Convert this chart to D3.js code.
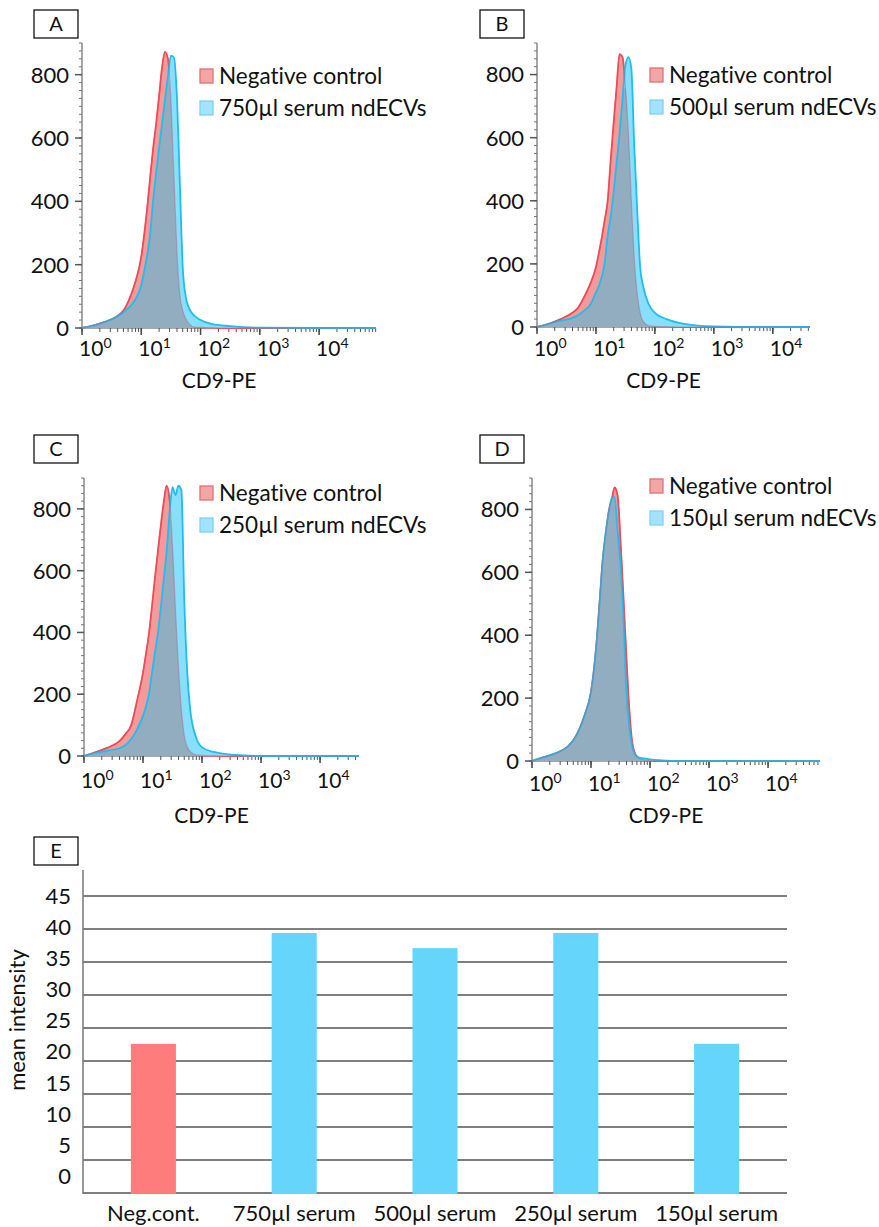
<!DOCTYPE html>
<html>
<head>
<meta charset="utf-8">
<script src="https://cdn.jsdelivr.net/npm/d3@7"></script>
<style>
  body { margin: 0; background: #fff; }
  text { font-family: Lato, "Open Sans", sans-serif; fill: #111; font-variant-ligatures: none; }
</style>
</head>
<body>
<svg id="figure" width="879" height="1227"></svg>
<script>
/*
 * CD9-PE histogram overlays (A-D) and the mean intensity bar chart (E).
 */

// Fluorescence channel values (CD9-PE) the histogram counts were read at.
var channel = [1, 1.58, 2.51, 3.98, 5.01, 6.31, 7.94, 10, 11.2, 12.6, 14.1, 15.8, 17.8, 20, 22.4,
  25.1, 28.2, 31.6, 35.5, 39.8, 44.7, 50.1, 56.2, 63.1, 79.4, 100, 158, 316, 1000, 10000, 100000];

// Counts per channel, negative control vs. serum ndECVs, one pair per panel.
var negA = [0, 8, 20, 38, 55, 92, 145, 225, 295, 380, 475, 565, 645, 734, 822, 872, 850, 720, 480, 250, 105, 55, 30, 15, 3, 2, 1, 0, 0, 0, 0];
var serumA = [0, 8, 20, 37, 50, 66, 90, 135, 180, 230, 295, 400, 490, 570, 645, 720, 795, 860, 855, 735, 460, 190, 100, 65, 38, 25, 12, 6, 1, 0, 0];
var negB = [0, 10, 25, 45, 62, 95, 135, 190, 235, 285, 340, 400, 530, 650, 760, 865, 855, 760, 615, 400, 215, 105, 45, 18, 4, 2, 1, 0, 0, 0, 0];
var serumB = [0, 10, 20, 29, 38, 52, 70, 110, 130, 160, 205, 290, 350, 430, 520, 612, 720, 830, 855, 820, 570, 370, 190, 130, 70, 45, 25, 10, 2, 0, 0];
var negC = [0, 13, 27, 48, 70, 100, 180, 270, 330, 395, 480, 570, 660, 745, 820, 875, 830, 680, 470, 290, 150, 65, 30, 14, 4, 2, 1, 0, 0, 0, 0];
var serumC = [0, 10, 17, 25, 35, 55, 86, 130, 160, 200, 265, 330, 395, 480, 570, 660, 790, 870, 845, 875, 860, 500, 270, 150, 60, 28, 13, 4, 0, 0, 0];
var negD = [0, 12, 24, 45, 66, 100, 150, 220, 290, 390, 515, 640, 720, 795, 830, 870, 845, 700, 520, 330, 160, 58, 22, 10, 3, 1, 0, 0, 0, 0, 0];
var serumD = [0, 12, 25, 45, 66, 100, 150, 220, 290, 390, 510, 640, 730, 790, 835, 840, 730, 625, 450, 220, 110, 45, 20, 12, 8, 5, 2, 0, 0, 0, 0];

var negLabel = 'Negative control';
var serumLabels = ['750µl serum ndECVs', '500µl serum ndECVs', '250µl serum ndECVs', '150µl serum ndECVs'];
var countTicks = [0, 200, 400, 600, 800];
var decadeTicks = [1, 10, 100, 1000, 10000];
var xTitle = 'CD9-PE';

// Panel E
var barCategories = ['Neg.cont.', '750µl serum', '500µl serum', '250µl serum', '150µl serum'];
var barValues = [22.6, 39.4, 37.1, 39.4, 22.6];
var barTicks = [0, 5, 10, 15, 20, 25, 30, 35, 40, 45];
var barTitle = 'mean intensity';

var RED_FILL = '#f59a9a', RED_LINE = '#ff4a4a';
var BLUE_FILL = '#88dffb', BLUE_LINE = '#1fbdf0';
var OVERLAP = '#92acc0';

var svg = d3.select('#figure');

// Where each histogram sits on the page.
var panels = [
  {letter: 'A', neg: negA, serum: serumA, label: serumLabels[0], left: 82, right: 376, top: 43, bottom: 328, xMax: 91200,
   box: [34, 10], legend: [200, 84], title: 388, tickY: 356},
  {letter: 'B', neg: negB, serum: serumB, label: serumLabels[1], left: 537, right: 810, top: 43, bottom: 327, xMax: 42700,
   box: [480, 10], legend: [650, 83], title: 388, tickY: 356},
  {letter: 'C', neg: negC, serum: serumC, label: serumLabels[2], left: 84, right: 359, top: 478, bottom: 756, xMax: 45700,
   box: [34, 435], legend: [200, 501], title: 823, tickY: 788},
  {letter: 'D', neg: negD, serum: serumD, label: serumLabels[3], left: 532, right: 820, top: 478, bottom: 761, xMax: 75900,
   box: [480, 435], legend: [650, 494], title: 823, tickY: 791}
];

function letterBox(letter, pos) {
  /* Small boxed panel letter. */
  svg.append('rect')
    .attr('x', pos[0]).attr('y', pos[1])
    .attr('width', 44).attr('height', 28)
    .attr('fill', '#fff').attr('stroke', '#111').attr('stroke-width', 1.3);
  svg.append('text')
    .attr('x', pos[0] + 22).attr('y', pos[1] + 21)
    .attr('text-anchor', 'middle')
    .attr('font-size', 20)
    .text(letter);
}

function drawHistogram(p) {
  var g = svg.append('g');
  var x = d3.scaleLog().domain([1, p.xMax]).range([p.left, p.right]);
  var y = d3.scaleLinear().domain([0, 900]).range([p.bottom, p.top]);

  // keep the samples inside the axis, then run flat to its end
  var pts = [];
  channel.forEach(function(c, i) {
    if (c < p.xMax) pts.push({c: c, neg: p.neg[i], serum: p.serum[i]});
  });
  pts.push({c: p.xMax, neg: 0, serum: 0});

  var area = function(key) {
    return d3.area()
      .x(function(d) { return x(d.c); })
      .y0(y(0))
      .y1(function(d) { return y(key(d)); })
      .curve(d3.curveMonotoneX);
  };
  var line = function(key) {
    return d3.line()
      .x(function(d) { return x(d.c); })
      .y(function(d) { return y(key(d)); })
      .curve(d3.curveMonotoneX);
  };
  var negOf = function(d) { return d.neg; };
  var serumOf = function(d) { return d.serum; };
  var bothOf = function(d) { return Math.min(d.neg, d.serum); };

  // Y axis: minor ticks every 25 events
  g.append('line')
    .attr('x1', p.left).attr('x2', p.left)
    .attr('y1', y(0)).attr('y2', y(900))
    .attr('stroke', '#888').attr('stroke-width', 1.5);
  g.selectAll('.yminor')
    .data(d3.range(0, 901, 25))
    .enter()
    .append('line')
      .attr('x1', p.left - 3).attr('x2', p.left)
      .attr('y1', function(d) { return y(d); })
      .attr('y2', function(d) { return y(d); })
      .attr('stroke', '#777').attr('stroke-width', 1);
  g.selectAll('.ymajor')
    .data(countTicks)
    .enter()
    .append('line')
      .attr('x1', p.left - 7).attr('x2', p.left)
      .attr('y1', function(d) { return y(d); })
      .attr('y2', function(d) { return y(d); })
      .attr('stroke', '#555').attr('stroke-width', 1.5);
  g.selectAll('.ylab')
    .data(countTicks)
    .enter()
    .append('text')
      .attr('x', p.left - 13)
      .attr('y', function(d) { return y(d); })
      .attr('dy', '0.36em')
      .attr('text-anchor', 'end')
      .attr('font-size', 22)
      .text(function(d) { return d; });

  // X axis: log decades with 2..9 minor ticks
  g.append('line')
    .attr('x1', p.left).attr('x2', p.right)
    .attr('y1', y(0)).attr('y2', y(0))
    .attr('stroke', '#888').attr('stroke-width', 1.5);
  var minors = x.ticks().filter(function(t) { return t <= p.xMax; });
  g.selectAll('.xminor')
    .data(minors)
    .enter()
    .append('line')
      .attr('x1', function(d) { return x(d); })
      .attr('x2', function(d) { return x(d); })
      .attr('y1', y(0)).attr('y2', y(0) + 4)
      .attr('stroke', '#555').attr('stroke-width', 1);
  g.selectAll('.xmajor')
    .data(decadeTicks)
    .enter()
    .append('line')
      .attr('x1', function(d) { return x(d); })
      .attr('x2', function(d) { return x(d); })
      .attr('y1', y(0)).attr('y2', y(0) + 7)
      .attr('stroke', '#444').attr('stroke-width', 1.5);
  var xl = g.selectAll('.xlab')
    .data(decadeTicks)
    .enter()
    .append('text')
      .attr('x', function(d) { return x(d) - 3; })
      .attr('y', p.tickY)
      .attr('font-size', 21);
  xl.append('tspan').text('10');
  xl.append('tspan')
    .attr('font-size', 14).attr('dy', -8)
    .text(function(d) { return Math.round(Math.log10(d)); });

  // Overlaid histograms
  g.append('path').datum(pts).attr('d', area(negOf)).attr('fill', RED_FILL);
  g.append('path').datum(pts).attr('d', line(negOf))
    .attr('fill', 'none').attr('stroke', RED_LINE).attr('stroke-width', 1.8);
  g.append('path').datum(pts).attr('d', area(serumOf)).attr('fill', BLUE_FILL);
  g.append('path').datum(pts).attr('d', area(bothOf)).attr('fill', OVERLAP);
  g.append('path').datum(pts).attr('d', line(serumOf))
    .attr('fill', 'none').attr('stroke', BLUE_LINE).attr('stroke-width', 1.8);
  g.append('path').datum(pts).attr('d', line(negOf))
    .attr('fill', 'none').attr('stroke', '#b0607a').attr('stroke-width', 1.2).attr('stroke-opacity', 0.45);

  g.append('text')
    .attr('x', (p.left + p.right) / 2 - 10)
    .attr('y', p.title)
    .attr('text-anchor', 'middle')
    .attr('font-size', 21)
    .text(xTitle);

  // Legend
  var items = [
    {label: negLabel, fill: '#f4a6a6', stroke: '#e07070'},
    {label: p.label, fill: '#a2e4ff', stroke: '#7fd0f2'}
  ];
  var lg = g.selectAll('.legend')
    .data(items)
    .enter()
    .append('g')
      .attr('transform', function(d, i) {
        return 'translate(' + p.legend[0] + ', ' + (p.legend[1] + i * 32) + ')';
      });
  lg.append('rect')
    .attr('x', 0).attr('y', -15)
    .attr('width', 13).attr('height', 14)
    .attr('fill', function(d) { return d.fill; })
    .attr('stroke', function(d) { return d.stroke; })
    .attr('stroke-width', 1.3);
  lg.append('text')
    .attr('x', 19).attr('y', 0)
    .attr('font-size', 22.5)
    .text(function(d) { return d.label; });

  letterBox(p.letter, p.box);
}

panels.forEach(drawHistogram);

// Panel E: bar chart of mean intensity
function drawBars() {
  var left = 83, right = 787;
  var y = d3.scaleLinear().domain([0, 45]).range([1193, 896]);
  // the tick numbers in the source sit a little above their gridlines
  var yLabel = d3.scaleLinear().domain([0, 45]).range([1176, 896]);
  var x = d3.scaleBand().domain(barCategories).range([left, right])
    .paddingInner(0.68).paddingOuter(0.34);

  var g = svg.append('g');
  g.selectAll('.grid')
    .data(barTicks)
    .enter()
    .append('line')
      .attr('x1', left).attr('x2', right)
      .attr('y1', function(d) { return y(d); })
      .attr('y2', function(d) { return y(d); })
      .attr('stroke', '#555').attr('stroke-width', 1.5);
  g.append('line')
    .attr('x1', left).attr('x2', left)
    .attr('y1', 870).attr('y2', y(0) + 1)
    .attr('stroke', '#777').attr('stroke-width', 1.5);

  g.selectAll('.bar')
    .data(barValues)
    .enter()
    .append('rect')
      .attr('x', function(d, i) { return x(barCategories[i]); })
      .attr('y', function(d) { return y(d); })
      .attr('width', x.bandwidth())
      .attr('height', function(d) { return y(0) - y(d) + 1; })
      .attr('fill', function(d, i) { return i === 0 ? '#ff7c7c' : '#66d5fc'; });

  g.selectAll('.ylab')
    .data(barTicks)
    .enter()
    .append('text')
      .attr('x', 71)
      .attr('y', function(d) { return yLabel(d); })
      .attr('dy', '0.36em')
      .attr('text-anchor', 'end')
      .attr('font-size', 22)
      .text(function(d) { return d; });

  g.selectAll('.xlab')
    .data(barCategories)
    .enter()
    .append('text')
      .attr('x', function(d) { return x(d) + x.bandwidth() / 2; })
      .attr('y', 1221)
      .attr('text-anchor', 'middle')
      .attr('font-size', 22)
      .text(function(d) { return d; });

  g.append('text')
    .attr('transform', 'translate(25, 1020) rotate(-90)')
    .attr('text-anchor', 'middle')
    .attr('font-size', 22)
    .text(barTitle);

  letterBox('E', [34, 837]);
}

drawBars();
</script>
</body>
</html>
